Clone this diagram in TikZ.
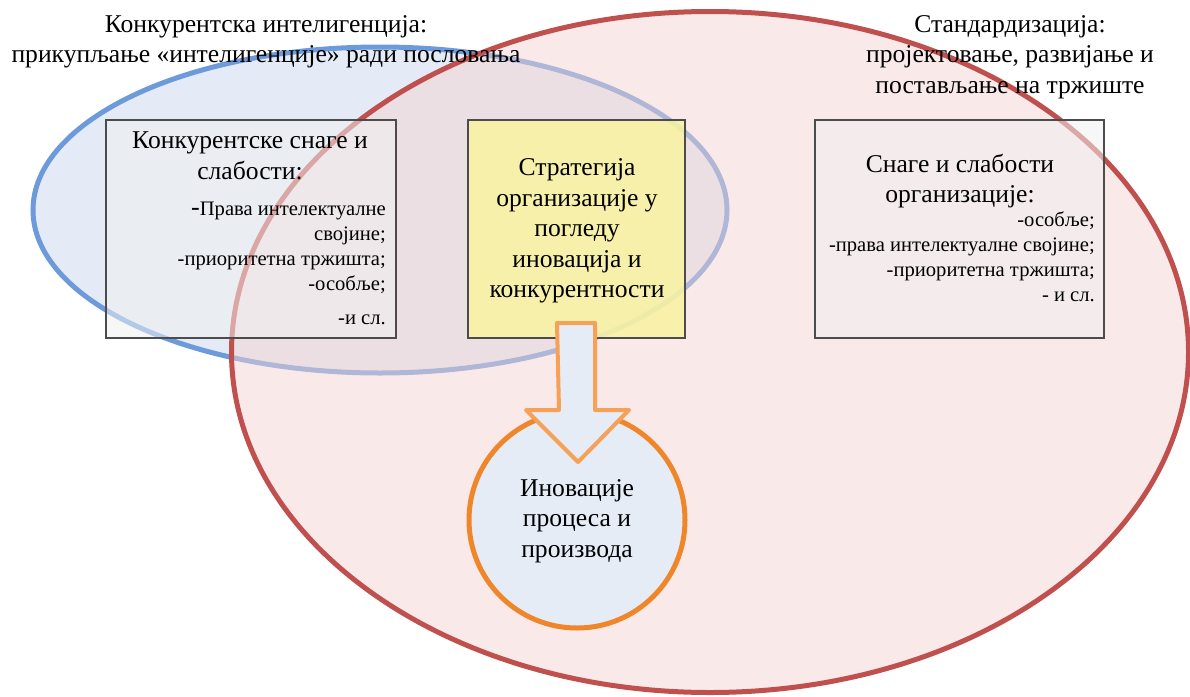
\documentclass[tikz,border=0pt]{standalone}
\usepackage{fontspec}
\setmainfont{Liberation Serif}
\usepackage{xcolor}
\usepackage{tikz}
\usetikzlibrary{positioning, shapes.geometric}

\definecolor{ciblue}{RGB}{108,154,218}
\definecolor{cifill}{RGB}{228,235,246}
\definecolor{stred}{RGB}{192,80,77}
\definecolor{stfill}{RGB}{244,212,212}
\definecolor{stratyel}{RGB}{250,243,160}
\definecolor{innorange}{RGB}{240,134,42}
\definecolor{arrorange}{RGB}{247,160,88}
\definecolor{inncore}{RGB}{229,236,246}

\begin{document}
\begin{tikzpicture}[
    x=1pt, y=-1pt,
    intel/.style={draw=ciblue, fill=cifill, ellipse, line width=5pt, inner sep=0pt},
    stand/.style={draw=stred, fill=stfill, fill opacity=0.5, ellipse, line width=5pt, inner sep=0pt},
    boxw/.style={draw=black!70, line width=1.2pt, fill=white!94!black, fill opacity=0.55, rectangle, inner sep=0pt},
    strat/.style={boxw, fill=stratyel, fill opacity=0.85},
    innov/.style={draw=innorange, fill=inncore, circle, line width=5pt, inner sep=0pt},
    bigarr/.style={draw=arrorange, fill=inncore, line width=4pt, line join=round},
    txt/.style={font=\fontsize{25.6}{30.5}\selectfont, align=center, inner sep=0pt},
    small/.style={font=\fontsize{20.6}{25}\selectfont, align=right, inner sep=0pt},
]
\useasboundingbox (0,0) rectangle (1190,696);

% the two areas
\node[intel, minimum width=694, minimum height=326] (ci) at (380,210) {};
\node[stand, minimum width=957, minimum height=681] (st) at (710,352) {};

% boxes
\node[boxw, minimum width=290, minimum height=218] (compbox) at (251,229) {};
\node[strat, minimum width=217, minimum height=218] (stratbox) at (576.5,229) {};
\node[boxw, minimum width=289, minimum height=218] (orgbox) at (959.5,229) {};

% innovation circle and the block arrow into it
\node[innov, minimum size=216] (inno) at (577,520) {};
\coordinate (arrtop) at (576,323);
\draw[bigarr] (arrtop) ++(-19,0) -- ++(38,0) -- ++(0,87) -- ++(34,0)
    -- ++(-51,52) -- ++(-52,-52) -- ++(33,0) -- cycle;

% titles
\node[txt] (cititle) at (266,42) {Конкурентска интелигенција:\\прикупљање «интелигенције» ради пословања};
\node[txt] (sttitle) at (1010,57) {Стандардизација:\\пројектовање, развијање и\\постављање на тржиште};

% box texts
\node[txt] (comphead) at (250,156) {Конкурентске снаге и\\слабости:};
\node[small, anchor=north east] (complist) at (386,202)
    {{\fontsize{26}{25}\selectfont -}Права интелектуалне\\својине;\\-приоритетна тржишта;\\-особље;\\[9pt]-и сл.};
\node[txt] (strattext) at (577,231) {Стратегија\\организације у\\погледу\\иновација и\\конкурентности};
\node[txt] (orghead) at (960,181) {Снаге и слабости\\организације:};
\node[small, anchor=north east] (orglist) at (1095,212)
    {-особље;\\-права интелектуалне својине;\\-приоритетна тржишта;\\- и сл.};
\node[txt] (innotext) at (577,521) {Иновације\\процеса и\\производа};
\end{tikzpicture}
\end{document}
